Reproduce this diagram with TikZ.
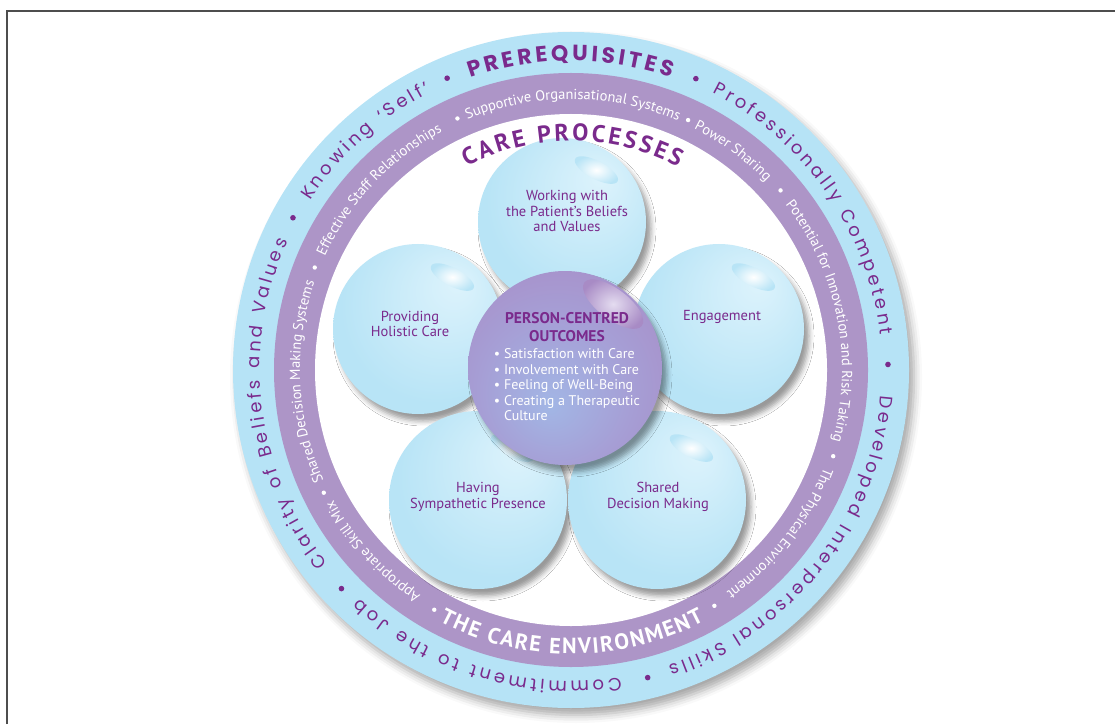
\documentclass[tikz,border=0pt]{standalone}
\usepackage{fontspec}
\setmainfont{PT Sans}
\newfontfamily\ringfont{Poppins}
\newfontfamily\headfont{PT Sans}
\usepackage{xcolor}
\usetikzlibrary{decorations.text,shadows.blur}

\definecolor{ringblue}{HTML}{B6E3F6}
\definecolor{bandlilac}{HTML}{AD95C7}
\definecolor{plum}{HTML}{7A2A8C}
\definecolor{petalblue}{HTML}{B8E4F6}
\definecolor{petallight}{HTML}{DDF3FC}
\definecolor{hubouter}{HTML}{A88BC5}
\definecolor{hubmid}{HTML}{A69ED5}
\definecolor{hubinner}{HTML}{A2B6E5}
\definecolor{hubgloss}{HTML}{E4DCF0}
\definecolor{framegrey}{HTML}{4D4D4D}

\pgfdeclareradialshading{petalshade}{\pgfpoint{12bp}{14bp}}{color(0bp)=(petallight); color(28bp)=(petalblue); color(50bp)=(petalblue)}
\pgfdeclareradialshading{hubshade}{\pgfpoint{-4bp}{-10bp}}{color(0bp)=(hubinner); color(20bp)=(hubmid); color(38bp)=(hubouter); color(50bp)=(hubouter)}

\newcommand\ringstyle{\ringfont\fontsize{18}{18}\selectfont\color{plum}\kern3.3pt}
\newcommand\prereqstyle{\ringfont\bfseries\fontsize{22}{22}\selectfont\color{plum}\kern3.4pt}
\newcommand\bandstyle{\headfont\fontsize{14.5}{14.5}\selectfont\color{white}}
\newcommand\envstyle{\headfont\bfseries\fontsize{22}{22}\selectfont\color{white}\kern1.7pt}
\newcommand\processstyle{\headfont\bfseries\fontsize{24}{24}\selectfont\color{plum}\kern2.9pt}
\newcommand\arctext[4]{\path[decorate,decoration={text along path,text align=center,text={|#3|#4}}]
  ([shift={(#2+90:#1)}]C) arc[start angle=#2+90,end angle=#2-90,radius=#1];}

\tikzset{
  frame/.style={draw=framegrey, line width=1.6pt},
  petal/.style={circle, minimum size=170pt, inner sep=0pt, shade, shading=petalshade,
    blur shadow={shadow xshift=5pt, shadow yshift=-7pt, shadow blur radius=5pt, shadow opacity=40}},
  hub/.style={circle, minimum size=194pt, inner sep=0pt, shade, shading=hubshade,
    blur shadow={shadow xshift=5pt, shadow yshift=-7pt, shadow blur radius=5pt, shadow opacity=40}},
  gloss/.style={inner color=white, outer color=petalblue},
  caption/.style={align=center, text=plum, font=\fontsize{14.5}{15.5}\selectfont},
  outcomes/.style={align=center, text=white, font=\fontsize{14}{15.5}\selectfont}
}

\begin{document}
\begin{tikzpicture}[x=1pt,y=1pt]
\useasboundingbox (0,0) rectangle (1115,724);
\draw[frame] (7,0) -- (7,713) -- (1115,713);
\coordinate (C) at (571,354);
\fill[ringblue, blur shadow={shadow xshift=5pt, shadow yshift=-7pt, shadow blur radius=8pt, shadow opacity=35}] (C) circle[radius=338];
\fill[bandlilac] (C) circle[radius=297];
\fill[white] (C) circle[radius=256];

\arctext{309}{90.4}{\prereqstyle}{PREREQUISITES}
\arctext{311}{35}{\ringstyle}{Professionally Competent}
\arctext{311}{-38}{\ringstyle}{Developed Interpersonal Skills}
\arctext{311}{-106.5}{\ringstyle}{Commitment to the Job}
\arctext{311}{187.3}{\ringstyle}{Clarity of Beliefs and Values}
\arctext{311}{132.2}{\ringstyle}{Knowing ‘Self’}
\foreach \ang in {113,66.8,1,-76,-136.4,151.3}
  \fill[plum] ([shift={(\ang:317)}]C) circle[radius=2.8];

\arctext{271}{89.6}{\bandstyle}{Supportive Organisational Systems}
\arctext{271}{53.5}{\bandstyle}{Power Sharing}
\arctext{271}{11.3}{\bandstyle}{Potential for Innovation and Risk Taking}
\arctext{271}{-38}{\bandstyle}{The Physical Environment}
\arctext{271}{-137.5}{\bandstyle}{Appropriate Skill Mix}
\arctext{271}{182.6}{\bandstyle}{Shared Decision Making Systems}
\arctext{271}{136.8}{\bandstyle}{Effective Staff Relationships}
\path[decorate,decoration={text along path,text align=center,text={|\envstyle|THE CARE ENVIRONMENT}}]
  ([shift={(-180:284)}]C) arc[start angle=-180,end angle=0,radius=284];
\foreach \ang in {114.3,64.9,40.6,-18.2,-58.7,-119.7,-153.6,158.2}
  \fill[white] ([shift={(\ang:276)}]C) circle[radius=2.2];

\node[petal, minimum size=168pt] (work) at (562,502) {};
\node[petal] (holistic) at (418,395) {};
\node[petal] (engage) at (719,395) {};
\node[petal, minimum size=178pt] (presence) at (478,224) {};
\node[petal, minimum size=178pt] (shared) at (657,224) {};
\foreach \p in {work,holistic,engage,presence,shared}
  \shade[gloss, shift={(\p.center)}, rotate=-28] (6,62) ellipse[x radius=24, y radius=9];

\arctext{229}{90}{\processstyle}{CARE PROCESSES}

\node[hub] (outcome) at (565,356) {};
\shade[inner color=hubgloss, outer color=hubouter, shift={(outcome.center)}, rotate=-37] (0,80) ellipse[x radius=36, y radius=15];

\node[caption] (workcap) at (567,513) {Working with\\the Patient’s Beliefs\\and Values};
\node[caption] (holisticcap) at (410,400) {Providing\\Holistic Care};
\node[caption] (engagecap) at (722,407) {Engagement};
\node[caption] (presencecap) at (478,227) {Having\\Sympathetic Presence};
\node[caption] (sharedcap) at (658,227) {Shared\\Decision Making};
\node[outcomes] (outcometext) at (567,355) {\begin{tabular}{@{}l@{}}
  \multicolumn{1}{@{}c@{}}{\textcolor{plum}{\bfseries\fontsize{15.5}{16.5}\selectfont PERSON-CENTRED}}\\[1.5pt]
  \multicolumn{1}{@{}c@{}}{\textcolor{plum}{\bfseries\fontsize{15.5}{16.5}\selectfont OUTCOMES}}\\[2pt]
  • Satisfaction with Care\\
  • Involvement with Care\\
  • Feeling of Well-Being\\
  • Creating a Therapeutic\\
  \phantom{• }Culture
\end{tabular}};
\end{tikzpicture}
\end{document}
